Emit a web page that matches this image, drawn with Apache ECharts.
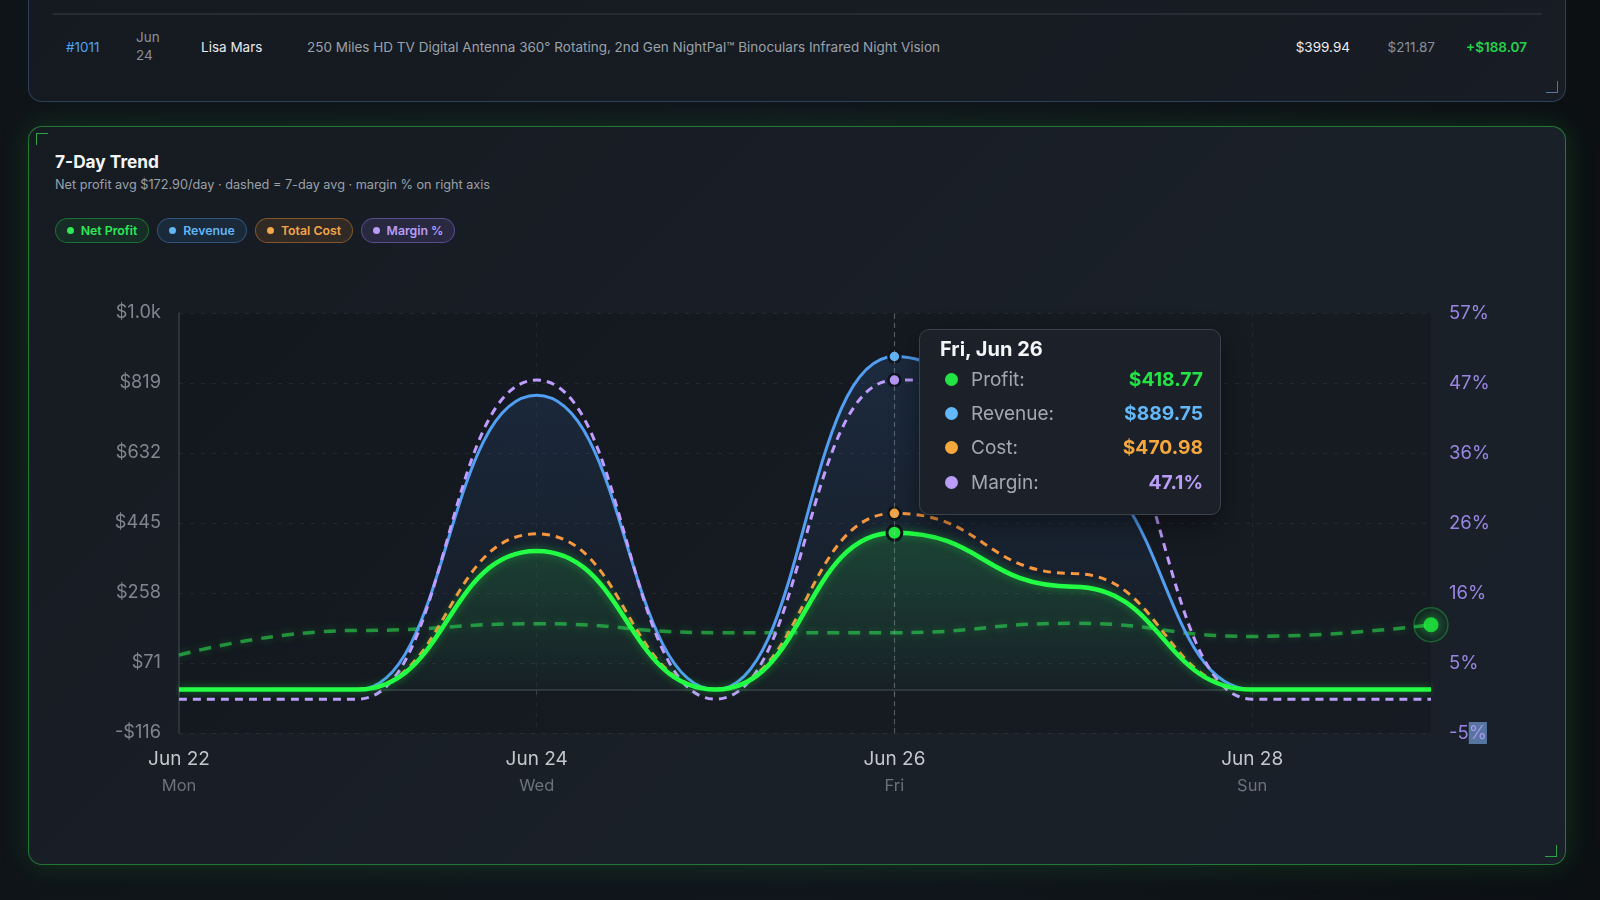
<!DOCTYPE html>
<html>
<head>
<meta charset="utf-8">
<script src="https://cdn.jsdelivr.net/npm/echarts@6/dist/echarts.min.js"></script>
<style>
  html, body { margin:0; padding:0; width:1600px; height:900px; overflow:hidden;
    background: linear-gradient(90deg, #0f1418 0%, #11161c 50%, #0c1013 100%);
    font-family: Inter, "Noto Sans", sans-serif; }
  .card { position:absolute; border-radius:14px; box-sizing:border-box; }
  #top { left:28px; top:-30px; width:1538px; height:132px;
    background: linear-gradient(135deg,#151a21,#181d25);
    border:1px solid rgba(70,110,160,0.45); }
  #main { left:28px; top:126px; width:1538px; height:739px;
    background: linear-gradient(135deg,#161b22 0%,#1a2028 60%,#1a2029 100%);
    border:1.5px solid rgba(40,150,60,0.75);
    box-shadow: 0 0 28px rgba(30,170,60,0.22); }
  .sep { position:absolute; left:24px; right:23px; top:42px; height:2px; background:#262b33; }
  .cell { position:absolute; font-size:13.5px; line-height:18.4px; white-space:nowrap; }
  .br { position:absolute; width:11px; height:11px; }
  .title { position:absolute; left:26px; top:24px; font-size:17.3px; font-weight:700; color:#f3f4f6; }
  .sub { position:absolute; left:26px; top:50px; font-size:12.7px; color:#9aa1aa; }
  .pills { position:absolute; left:26px; top:91px; display:flex; gap:8px; }
  .pill { height:25px; box-sizing:border-box; border-radius:13px; padding:0; display:flex; align-items:center; justify-content:center;
    font-size:12.3px; font-weight:600; border:1px solid; white-space:nowrap; }
  .pill i { display:inline-block; width:7px; height:7px; border-radius:50%; margin-right:7px; }
  #chart { position:absolute; left:0; top:0; width:1600px; height:900px; z-index:5; }
</style>
</head>
<body>
<div id="top" class="card">
  <div class="sep"></div>
  <div class="cell" style="left:37px;top:67px;color:#4ea3f0;">#1011</div>
  <div class="cell" style="left:107px;top:57px;color:#8a9099;">Jun<br>24</div>
  <div class="cell" style="left:172px;top:67px;color:#e7e9ec;">Lisa Mars</div>
  <div class="cell" style="left:278px;top:67px;color:#9ba1a9;">250 Miles HD TV Digital Antenna 360° Rotating, 2nd Gen NightPal™ Binoculars Infrared Night Vision</div>
  <div class="cell" style="right:215px;top:67px;color:#eceef1;">$399.94</div>
  <div class="cell" style="right:130px;top:67px;color:#8a9099;">$211.87</div>
  <div class="cell" style="right:38px;top:67px;color:#22d24a;font-weight:600;">+$188.07</div>
  <div class="br" style="right:7px;bottom:8px;border-right:1.5px solid #5a7394;border-bottom:1.5px solid #5a7394;"></div>
</div>
<div id="main" class="card">
  <div class="br" style="left:7px;top:6px;border-left:1.5px solid #2aa447;border-top:1.5px solid #2aa447;"></div>
  <div class="br" style="right:8px;bottom:7px;border-right:1.5px solid #2aa447;border-bottom:1.5px solid #2aa447;"></div>
  <div class="title">7-Day Trend</div>
  <div class="sub">Net profit avg $172.90/day · dashed = 7-day avg · margin % on right axis</div>
  <div class="pills">
    <div class="pill" style="width:94px;background:rgba(34,197,70,0.10);border-color:rgba(34,197,70,0.45);color:#2ee85a;"><i style="background:#2ee85a"></i>Net Profit</div>
    <div class="pill" style="width:90px;background:rgba(60,130,200,0.14);border-color:rgba(70,140,210,0.45);color:#62b6f6;"><i style="background:#62b6f6"></i>Revenue</div>
    <div class="pill" style="width:98px;background:rgba(230,140,50,0.12);border-color:rgba(230,140,50,0.45);color:#f3a64a;"><i style="background:#f3a64a"></i>Total Cost</div>
    <div class="pill" style="width:94px;background:rgba(150,120,240,0.14);border-color:rgba(150,120,240,0.45);color:#b89cf8;"><i style="background:#b89cf8"></i>Margin %</div>
  </div>
</div>
<div id="chart"></div>
<script>
const days = ['Jun 22','Jun 23','Jun 24','Jun 25','Jun 26','Jun 27','Jun 28','Jun 29'];
const weekdays = ['Mon','Tue','Wed','Thu','Fri','Sat','Sun','Mon'];
const profit  = [0, 0, 370, 0, 418.77, 275, 0, 0];
const revenue = [0, 0, 786, 0, 889.75, 585, 0, 0];
const cost    = [0, 0, 416, 0, 470.98, 310, 0, 0];
const margin  = [0, 0, 47.1, 0, 47.1, 47.0, 0, 0];
const avg7    = [92, 158, 176, 152, 152, 177, 142, 173];
const leftMin = -116, leftMax = 1006, leftStep = 187;
const rightMin = -5, rightMax = 57;
const focusIndex = 4;

const chart = echarts.init(document.getElementById('chart'), null, {renderer:'canvas'});
const font = 'Inter';
const C = { profit:'#1fec3f', revenue:'#4a90dc', cost:'#e48b3a', margin:'#ae8ff7', avg:'rgba(40,190,70,0.72)' };
const dotBorder = '#10151b';

function money(v){
  if (Math.abs(v) >= 1000) return '$' + (v/1000).toFixed(1) + 'k';
  return (v < 0 ? '-$' : '$') + Math.abs(Math.round(v));
}

const option = {
  backgroundColor: 'transparent',
  textStyle: { fontFamily: font },
  animation: false,
  grid: { left:179, right:169, top:313, bottom:167, show:true, backgroundColor:'rgba(5,8,12,0.18)', borderWidth:0 },
  tooltip: {
    trigger: 'axis',
    triggerOn: 'none',
    alwaysShowContent: true,
    padding: 0,
    backgroundColor: '#1b2029',
    borderColor: '#3c424c',
    borderWidth: 1.5,
    extraCssText: 'border-radius:10px;box-shadow:0 10px 28px rgba(0,0,0,0.45);',
    position: function(){ return [919, 329]; },
    axisPointer: { type:'line', lineStyle:{ color:'rgba(190,196,206,0.35)', width:1.2, type:[5,4] } },
    formatter: function(params){
      const i = params[0].dataIndex;
      const row = (col, label, val) =>
        '<div style="display:flex;align-items:center;height:34.4px;">' +
        '<span style="display:inline-block;width:13px;height:13px;border-radius:50%;background:'+col+';margin-left:5px;margin-right:13px;"></span>' +
        '<span style="color:#a3a8b0;font-size:19px;flex:1;">'+label+'</span>' +
        '<span style="color:'+col+';font-size:19.3px;font-weight:700;">'+val+'</span></div>';
      return '<div style="width:300px;box-sizing:border-box;padding:6px 17px 14px 20px;font-family:Inter;">' +
        '<div style="color:#f5f6f8;font-size:20px;font-weight:700;line-height:26px;height:26px;">'+weekdays[i]+', '+days[i]+'</div>' +
        row('#22e445','Profit:','$'+profit[i].toFixed(2)) +
        row('#62b8f8','Revenue:','$'+revenue[i].toFixed(2)) +
        row('#f6a83c','Cost:','$'+cost[i].toFixed(2)) +
        row('#b99df7','Margin:',margin[i].toFixed(1)+'%') +
        '</div>';
    }
  },
  xAxis: {
    type: 'category',
    data: days,
    boundaryGap: false,
    axisLine: { show:true, lineStyle:{ color:'#3a4049', width:1.5 } },
    axisTick: { show:true, interval:1, length:5, lineStyle:{ color:'#3a4049' } },
    splitLine: { show:true, interval:1, lineStyle:{ color:'rgba(255,255,255,0.06)', type:[4,6] } },
    axisLabel: {
      interval: 1, margin: 14,
      formatter: function(v, i){ return '{d|' + v + '}\n{w|' + weekdays[i] + '}'; },
      rich: {
        d: { fontFamily:font, fontSize:19, color:'#c4c8ce', lineHeight:24 },
        w: { fontFamily:font, fontSize:16.5, color:'#6b727c', lineHeight:30 }
      }
    }
  },
  yAxis: [
    {
      type:'value', min:leftMin, max:leftMax, interval:leftStep,
      axisLine:{ show:true, lineStyle:{ color:'#353b44', width:1.5 } },
      axisTick:{ show:false },
      splitLine:{ show:true, lineStyle:{ color:'rgba(255,255,255,0.07)', type:[4,7] } },
      axisLabel:{ margin:18, fontSize:18.2, color:'#80868f', fontFamily:font, formatter: money }
    },
    {
      type:'value', min:rightMin, max:rightMax, interval:(rightMax-rightMin)/6,
      axisLine:{ show:false }, axisTick:{ show:false }, splitLine:{ show:false },
      axisLabel:{ margin:18, fontSize:18.5, color:'#9a86e2', fontFamily:font,
        formatter: function(v){ const r = Math.round(v); return r === rightMin ? r + '{sel|%}' : r + '%'; },
        rich:{ sel:{ fontSize:18.5, fontFamily:font, color:'#a596ee', backgroundColor:'#56759f', padding:[2,0,1,0] } }
      }
    }
  ],
  series: [
    {
      name:'7-day avg', type:'line', data:avg7, smooth:0.5, smoothMonotone:'x', symbol:'none', z:2,
      lineStyle:{ color:C.avg, width:3.5, type:[12,9], shadowBlur:8, shadowColor:'rgba(40,220,70,0.45)' },
      emphasis:{ disabled:true }
    },
    {
      name:'Revenue', type:'line', data:revenue, smooth:0.5, smoothMonotone:'x', showSymbol:false, z:3,
      symbol:'circle', symbolSize:12,
      itemStyle:{ color:'#5fb4f6', borderColor:dotBorder, borderWidth:2.5 },
      lineStyle:{ color:C.revenue, width:3 },
      areaStyle:{ color: new echarts.graphic.LinearGradient(0,0,0,1,[
        {offset:0, color:'rgba(60,120,200,0.22)'}, {offset:1, color:'rgba(60,120,200,0.02)'}]) },
      emphasis:{ scale:false, lineStyle:{ width:3 } }
    },
    {
      name:'Margin', type:'line', yAxisIndex:1, data:margin, smooth:0.5, smoothMonotone:'x', showSymbol:false, z:4,
      symbol:'circle', symbolSize:12,
      itemStyle:{ color:'#b596f8', borderColor:dotBorder, borderWidth:2.5 },
      lineStyle:{ color:C.margin, width:3, type:[8,6] },
      emphasis:{ scale:false, lineStyle:{ width:3 } }
    },
    {
      name:'Cost', type:'line', data:cost, smooth:0.5, smoothMonotone:'x', showSymbol:false, z:5,
      symbol:'circle', symbolSize:12,
      itemStyle:{ color:'#f5a53e', borderColor:dotBorder, borderWidth:2.5 },
      lineStyle:{ color:C.cost, width:3, type:[8,6] },
      emphasis:{ scale:false, lineStyle:{ width:3 } }
    },
    {
      name:'Profit', type:'line', data:profit, smooth:0.5, smoothMonotone:'x', showSymbol:false, z:6,
      symbol:'circle', symbolSize:15,
      itemStyle:{ color:'#1fe93f', borderColor:dotBorder, borderWidth:3 },
      lineStyle:{ color:C.profit, width:4.5, shadowBlur:8, shadowColor:'rgba(30,235,60,0.45)' },
      areaStyle:{ color: new echarts.graphic.LinearGradient(0,0,0,1,[
        {offset:0, color:'rgba(40,200,70,0.26)'}, {offset:1, color:'rgba(40,200,70,0.03)'}]) },
      emphasis:{ scale:false, lineStyle:{ width:4.5 } }
    },
    {
      name:'ring', type:'scatter', silent:true, z:7, tooltip:{show:false},
      data: avg7.map((v,i) => i === avg7.length-1 ? v : '-'),
      symbolSize: 34,
      itemStyle:{ color:'rgba(30,200,60,0.06)', borderColor:'rgba(40,190,70,0.5)', borderWidth:1.5 },
      emphasis:{ disabled:true }
    },
    {
      name:'end', type:'scatter', silent:true, z:8, tooltip:{show:false},
      data: avg7.map((v,i) => i === avg7.length-1 ? v : '-'),
      symbolSize: 15,
      itemStyle:{ color:'#1ff03e', shadowBlur:12, shadowColor:'rgba(30,240,60,0.8)' },
      emphasis:{ disabled:true }
    }
  ]
};
chart.setOption(option);
setTimeout(function(){
  chart.dispatchAction({ type:'showTip', seriesIndex:4, dataIndex:focusIndex });
}, 50);
</script>
</body>
</html>
